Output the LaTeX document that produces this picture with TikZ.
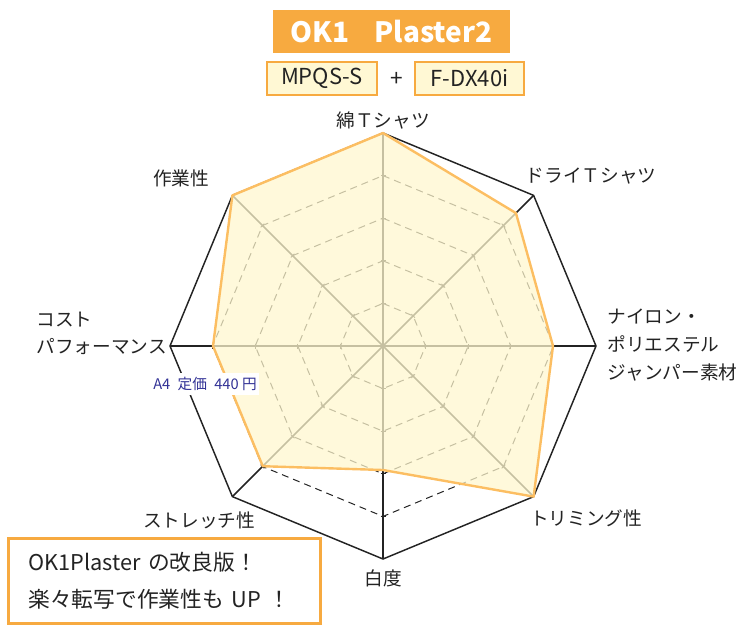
\documentclass[tikz,border=0pt]{standalone}
\usepackage{fontspec}
\setmainfont{Noto Sans CJK JP}
\usetikzlibrary{positioning}

\definecolor{plorange}{RGB}{247,170,64}
\definecolor{plcream}{RGB}{255,248,212}
\definecolor{plfill}{RGB}{255,247,206}
\definecolor{plline}{RGB}{252,190,98}
\definecolor{plblue}{RGB}{50,50,150}
\definecolor{pltext}{RGB}{35,35,35}

\tikzset{
  titlebox/.style={fill=plorange, text=white, font=\fontsize{21}{25}\selectfont\bfseries,
    minimum width=177.75pt, minimum height=32.25pt, inner sep=0pt},
  modelbox/.style={draw=plorange, line width=1.5pt, fill=plcream, text=pltext,
    font=\fontsize{16.5}{18}\selectfont, minimum width=82pt, minimum height=24.5pt, inner sep=0pt},
  axislabel/.style={text=pltext, font=\fontsize{14}{21}\selectfont, inner sep=1pt},
  ring/.style={pltext, line width=0.75pt, dash pattern=on 5.25pt off 3.75pt},
  spoke/.style={pltext, line width=1.1pt},
  tick/.style={pltext, line width=0.75pt},
  frame/.style={pltext, line width=1.1pt, line join=miter},
  datapoly/.style={draw=plline, line width=1.8pt, line join=round, fill=plfill, fill opacity=0.74},
  pricetag/.style={fill=white, text=plblue, font=\fontsize{11}{13}\selectfont, inner xsep=2pt, inner ysep=3pt},
  notebox/.style={draw=plorange, line width=2.25pt, fill=white, text=pltext, align=left,
    font=\fontsize{16.3}{27.75}\selectfont, text width=204pt, inner xsep=15pt,
    minimum height=63.75pt}
}

\begin{document}
\begin{tikzpicture}[x=0.75pt, y=-0.75pt]
  \useasboundingbox (0,0) rectangle (745,626);

  % title and models
  \node[titlebox] (title) at (391.5,31.5) {OK1\hspace{0.9em}Plaster2};
  \node[modelbox] (mpqs) at (322,78.5) {MPQS-S};
  \node[text=pltext, font=\fontsize{17}{18}\selectfont, inner sep=0pt] (plus) at (397,79) {+};
  \node[modelbox] (fdx) at (469.5,78.5) {F-DX40i};

  % radar chart
  \begin{scope}[shift={(383,346)}]
    \coordinate (c) at (0,0);
    \foreach \lv in {0.2,0.4,0.6,0.8}
      \draw[ring] (-90:\lv*213) \foreach \a in {-45,0,...,225}{ -- (\a:\lv*213)} -- cycle;
    \foreach \a in {-90,-45,...,225} {
      \draw[spoke] (c) -- (\a:213);
      \foreach \lv in {0.2,0.4,0.6,0.8}
        \draw[tick] ([shift={(\a+90:2.5)}]\a:\lv*213) -- ([shift={(\a-90:2.5)}]\a:\lv*213);
    }
    \draw[frame] (-90:213) \foreach \a in {-45,0,...,225}{ -- (\a:213)} -- cycle;
    \draw[datapoly] (-90:213) -- (-45:188) -- (0:170) -- (45:213) -- (90:124)
      -- (135:170) -- (180:170) -- (225:213) -- cycle;
  \end{scope}

  % axis labels
  \node[axislabel] (cotton) at (383,120) {綿Ｔシャツ};
  \node[axislabel] (dry) at (591,176) {ドライＴシャツ};
  \node[axislabel, anchor=west, align=left] (nylon) at (606,345) {ナイロン・\\ポリエステル\\ジャンパー素材};
  \node[axislabel] (trim) at (586,518) {トリミング性};
  \node[axislabel] (white) at (383,578) {白度};
  \node[axislabel] (stretch) at (199,520) {ストレッチ性};
  \node[axislabel, anchor=west, align=left, font=\fontsize{14}{20.25}\selectfont] (cost) at (35,333) {コスト\\パフォーマンス};
  \node[axislabel] (work) at (181,178) {作業性};

  \node[pricetag] (price) at (205,384) {A4\enspace 定価\enspace 440 円};

  % note
  \node[notebox] (note) at (164.5,581) {OK1Plaster の改良版！\\楽々転写で作業性も UP ！};
\end{tikzpicture}
\end{document}
